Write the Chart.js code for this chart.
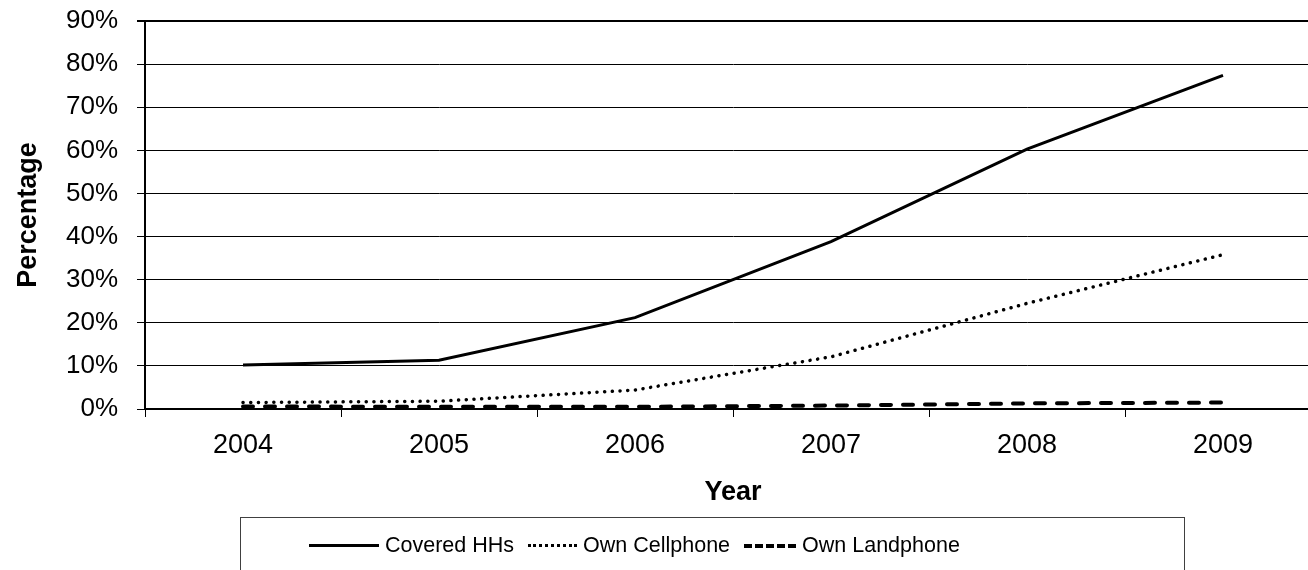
<!DOCTYPE html>
<html>
<head>
<meta charset="utf-8">
<script src="https://cdn.jsdelivr.net/npm/chart.js@4/dist/chart.umd.min.js"></script>
<style>
  body { margin: 0; overflow: hidden; background: #fff; font-family: "Liberation Sans", Arial, sans-serif; }
  #wrap { position: relative; width: 1308px; height: 570px; overflow: hidden; }
  #legend { position: absolute; left: 240px; top: 517px; width: 945px; height: 60px; border: 1px solid #404040; box-sizing: border-box;
            display: flex; align-items: flex-start; padding: 15px 0 0 68px; gap: 14px; font-size: 21.5px; }
  .item { display: flex; align-items: center; }
  .sample { height: 0; margin-right: 6px; }
</style>
</head>
<body>
<div id="wrap">
  <canvas id="chart" width="1330" height="570"></canvas>
  <div id="legend"></div>
</div>
<script>
var years = ['2004', '2005', '2006', '2007', '2008', '2009'];
var coveredHHs = [10.2, 11.3, 21.2, 38.8, 60.3, 77.4];
var ownCellphone = [1.5, 1.8, 4.4, 12.1, 24.5, 35.8];
var ownLandphone = [0.6, 0.5, 0.5, 0.8, 1.3, 1.5];
var seriesNames = ['Covered HHs', 'Own Cellphone', 'Own Landphone'];

var font = "'Liberation Sans', Arial, sans-serif";

var chart = new Chart(document.getElementById('chart'), {
  type: 'line',
  data: {
    labels: years,
    datasets: [
      { label: seriesNames[0], data: coveredHHs, borderColor: '#000', borderWidth: 3, pointRadius: 0, tension: 0 },
      { label: seriesNames[1], data: ownCellphone, borderColor: '#000', borderWidth: 3.5, borderDash: [0.1, 7.6], borderCapStyle: 'round', pointRadius: 0, tension: 0 },
      { label: seriesNames[2], data: ownLandphone, borderColor: '#000', borderWidth: 4, borderDash: [10, 12], borderCapStyle: 'round', pointRadius: 0, tension: 0 }
    ]
  },
  options: {
    responsive: false,
    animation: false,
    layout: { padding: { top: 21, right: 9, bottom: 61, left: 0 } },
    plugins: { legend: { display: false }, tooltip: { enabled: false } },
    scales: {
      x: {
        offset: true,
        grid: { drawOnChartArea: false, offset: true, tickLength: 8, color: '#000', lineWidth: 1 },
        border: { color: '#000', width: 2 },
        ticks: { color: '#000', font: { family: font, size: 27 }, padding: 12, maxRotation: 0 },
        title: { display: true, text: 'Year', color: '#000', font: { family: font, size: 27, weight: 'bold' }, padding: { top: 4, bottom: 0 } },
        afterFit: function (s) { s.height = 100; }
      },
      y: {
        min: 0, max: 90,
        grid: {
          color: '#000', tickLength: 8,
          lineWidth: function (c) { return c.tick && c.tick.value === 90 ? 2 : 1; }
        },
        border: { color: '#000', width: 2 },
        ticks: { stepSize: 10, color: '#000', padding: 19, font: { family: font, size: 26 },
                 callback: function (v) { return v + '%'; } },
        title: { display: true, text: 'Percentage', color: '#000', font: { family: font, size: 27, weight: 'bold' }, padding: { top: 12, bottom: 0 } },
        afterFit: function (s) { s.width = 145; s.paddingTop = 0; s.paddingBottom = 0; }
      }
    }
  }
});

// legend box like the excel one
var styles = ['solid', 'dotted', 'dashed'];
var widths = [70, 49, 52];
var lg = document.getElementById('legend');
for (var i = 0; i < seriesNames.length; i++) {
  var it = document.createElement('div');
  it.className = 'item';
  var sm = document.createElement('span');
  sm.className = 'sample';
  sm.style.width = widths[i] + 'px';
  sm.style.borderTop = (i == 2 ? 4 : 3) + 'px ' + styles[i] + ' #000';
  it.appendChild(sm);
  it.appendChild(document.createTextNode(seriesNames[i]));
  lg.appendChild(it);
}
</script>
</body>
</html>
